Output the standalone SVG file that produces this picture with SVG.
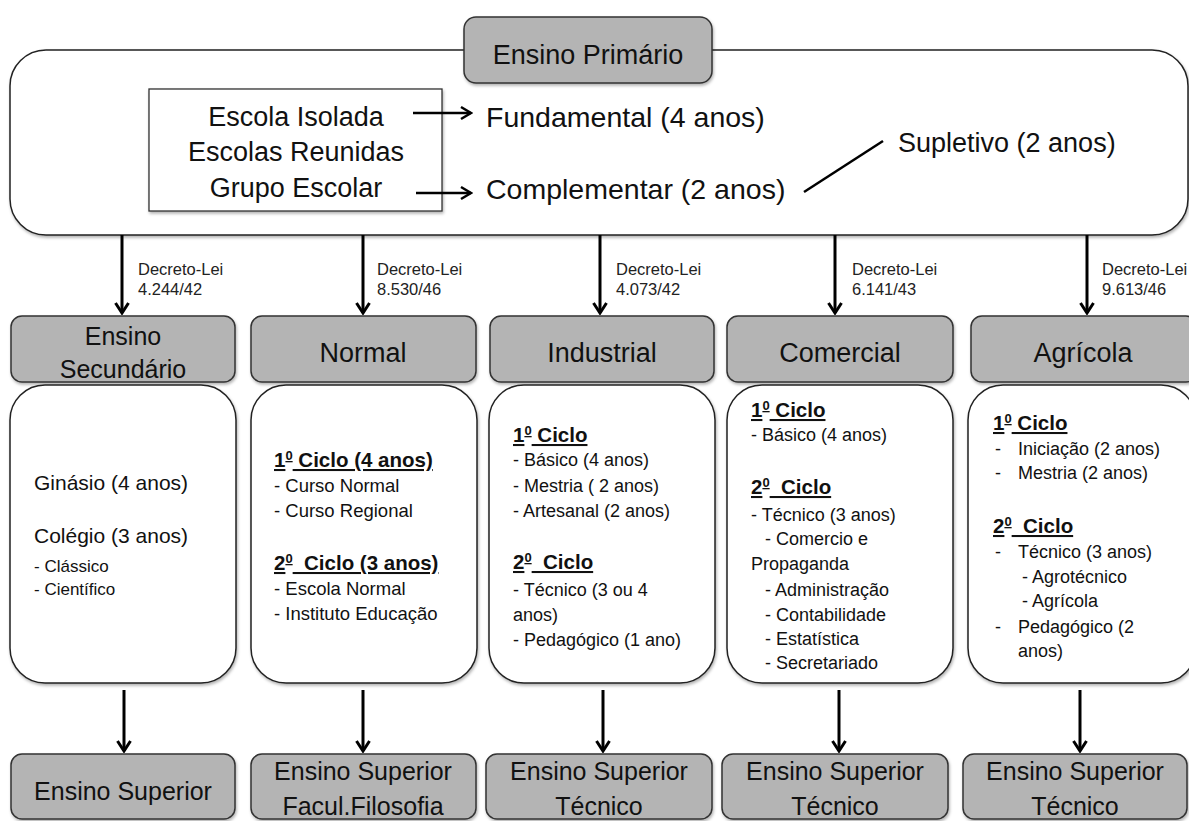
<svg xmlns="http://www.w3.org/2000/svg" width="1189" height="821" viewBox="0 0 1189 821">
<style>
text{font-family:"Liberation Sans",Arial,sans-serif;fill:#111}
.gray{fill:#b4b4b4;stroke:#333;stroke-width:1.5}
.white{fill:#fff;stroke:#222;stroke-width:1.5}
.big{font-size:27px}
.big2{font-size:28.5px}
.hd{font-size:27px;text-anchor:middle}
.hd2{font-size:25px;text-anchor:middle}
.bt{font-size:25px;text-anchor:middle}
.dl{font-size:16.5px;fill:#222}
.c1{font-size:21px}
.c1s{font-size:17px}
.it{font-size:18px}
.itn{font-size:18.5px}
.h{font-size:20.5px;font-weight:bold;text-decoration:underline}
.arr{stroke:#000;stroke-width:3;fill:none;marker-end:url(#ah)}
.arr2{stroke:#000;stroke-width:2.5;fill:none;marker-end:url(#ah2)}
</style>
<defs>
<filter id="sh" x="-5%" y="-5%" width="115%" height="120%">
<feDropShadow dx="1" dy="2" stdDeviation="1.5" flood-color="#000" flood-opacity="0.3"/>
</filter>
<marker id="ah" viewBox="-13 -9 15 18" refX="0" refY="0" markerWidth="15" markerHeight="18" markerUnits="userSpaceOnUse" orient="auto">
<path d="M-10,-6.5 L0,0 L-10,6.5" fill="none" stroke="#000" stroke-width="3"/>
</marker>
<marker id="ah2" viewBox="-13 -9 15 18" refX="0" refY="0" markerWidth="15" markerHeight="18" markerUnits="userSpaceOnUse" orient="auto">
<path d="M-10,-6 L0,0 L-10,6" fill="none" stroke="#000" stroke-width="2.5"/>
</marker>
</defs>
<rect width="1189" height="821" fill="#fff"/>

<g id="primario">
<rect class="white" x="10" y="50" width="1178" height="185" rx="36" filter="url(#sh)"/>
<rect x="149" y="89" width="293" height="122" fill="#fff" stroke="#333" stroke-width="1.3" filter="url(#sh)"/>
<text class="big" x="296" y="126" text-anchor="middle">Escola Isolada</text>
<text class="big" x="296" y="161" text-anchor="middle">Escolas Reunidas</text>
<text class="big" x="296" y="197" text-anchor="middle">Grupo Escolar</text>
<text class="big2" x="486" y="127">Fundamental (4 anos)</text>
<text class="big2" x="486" y="199">Complementar (2 anos)</text>
<text class="big" x="898" y="152" font-size="28">Supletivo (2 anos)</text>
<rect class="gray" x="464" y="17" width="248" height="66" rx="12" filter="url(#sh)"/>
<text class="hd" x="588" y="64">Ensino Primário</text>
</g>

<g id="decretos">
<text class="dl" x="138" y="275">Decreto-Lei</text><text class="dl" x="138" y="295">4.244/42</text>
<text class="dl" x="377" y="275">Decreto-Lei</text><text class="dl" x="377" y="295">8.530/46</text>
<text class="dl" x="616" y="275">Decreto-Lei</text><text class="dl" x="616" y="295">4.073/42</text>
<text class="dl" x="852" y="275">Decreto-Lei</text><text class="dl" x="852" y="295">6.141/43</text>
<text class="dl" x="1102" y="275">Decreto-Lei</text><text class="dl" x="1102" y="295">9.613/46</text>
</g>

<g id="secundario">
<rect class="gray" x="11" y="316" width="224" height="66" rx="11" filter="url(#sh)"/>
<text class="hd2" x="123" y="345">Ensino</text>
<text class="hd2" x="123" y="378">Secundário</text>
<rect class="white" x="10" y="385" width="226" height="298" rx="35" filter="url(#sh)"/>
<text class="c1" x="34" y="490">Ginásio (4 anos)</text>
<text class="c1" x="34" y="543">Colégio (3 anos)</text>
<text class="c1s" x="34" y="572">- Clássico</text>
<text class="c1s" x="34" y="595">- Científico</text>
</g>

<g id="normal">
<rect class="gray" x="251" y="316" width="225" height="66" rx="11" filter="url(#sh)"/>
<text class="hd" x="363" y="362">Normal</text>
<rect class="white" x="251" y="385" width="226" height="298" rx="35" filter="url(#sh)"/>
<text class="h" x="274" y="467">1<tspan font-size="13" baseline-shift="super">0</tspan> Ciclo (4 anos)</text>
<text class="itn" x="274" y="492">- Curso Normal</text>
<text class="itn" x="274" y="517">- Curso Regional</text>
<text class="h" x="274" y="570" xml:space="preserve">2<tspan font-size="13" baseline-shift="super">0</tspan>  Ciclo (3 anos)</text>
<text class="itn" x="274" y="595">- Escola Normal</text>
<text class="itn" x="274" y="620">- Instituto Educação</text>
</g>

<g id="industrial">
<rect class="gray" x="490" y="316" width="224" height="66" rx="11" filter="url(#sh)"/>
<text class="hd" x="602" y="362">Industrial</text>
<rect class="white" x="489" y="385" width="226" height="298" rx="35" filter="url(#sh)"/>
<text class="h" x="513" y="442">1<tspan font-size="13" baseline-shift="super">0</tspan> Ciclo</text>
<text class="it" x="513" y="466">- Básico (4 anos)</text>
<text class="it" x="513" y="492">- Mestria ( 2 anos)</text>
<text class="it" x="513" y="517">- Artesanal (2 anos)</text>
<text class="h" x="513" y="569" xml:space="preserve">2<tspan font-size="13" baseline-shift="super">0</tspan>  Ciclo</text>
<text class="it" x="513" y="596">- Técnico (3 ou 4</text>
<text class="it" x="513" y="621">anos)</text>
<text class="it" x="513" y="646">- Pedagógico (1 ano)</text>
</g>

<g id="comercial">
<rect class="gray" x="727" y="316" width="226" height="66" rx="11" filter="url(#sh)"/>
<text class="hd" x="840" y="362">Comercial</text>
<rect class="white" x="727" y="385" width="226" height="298" rx="35" filter="url(#sh)"/>
<text class="h" x="751" y="417">1<tspan font-size="13" baseline-shift="super">0</tspan> Ciclo</text>
<text class="it" x="751" y="441">- Básico (4 anos)</text>
<text class="h" x="751" y="494" xml:space="preserve">2<tspan font-size="13" baseline-shift="super">0</tspan>  Ciclo</text>
<text class="it" x="751" y="521">- Técnico (3 anos)</text>
<text class="it" x="765" y="545">- Comercio e</text>
<text class="it" x="751" y="570">Propaganda</text>
<text class="it" x="765" y="596">- Administração</text>
<text class="it" x="765" y="621">- Contabilidade</text>
<text class="it" x="765" y="645">- Estatística</text>
<text class="it" x="765" y="669">- Secretariado</text>
</g>

<g id="agricola">
<rect class="gray" x="971" y="316" width="226" height="66" rx="11" filter="url(#sh)"/>
<text class="hd" x="1083" y="362">Agrícola</text>
<rect class="white" x="968" y="385" width="228" height="298" rx="35" filter="url(#sh)"/>
<text class="h" x="993" y="430">1<tspan font-size="13" baseline-shift="super">0</tspan> Ciclo</text>
<text class="it" y="455"><tspan x="995">-</tspan><tspan x="1018">Iniciação (2 anos)</tspan></text>
<text class="it" y="479"><tspan x="995">-</tspan><tspan x="1018">Mestria (2 anos)</tspan></text>
<text class="h" x="993" y="533" xml:space="preserve">2<tspan font-size="13" baseline-shift="super">0</tspan>  Ciclo</text>
<text class="it" y="558"><tspan x="995">-</tspan><tspan x="1018">Técnico (3 anos)</tspan></text>
<text class="it" x="1022" y="583">- Agrotécnico</text>
<text class="it" x="1022" y="607">- Agrícola</text>
<text class="it" y="633"><tspan x="995">-</tspan><tspan x="1018">Pedagógico (2</tspan></text>
<text class="it" x="1018" y="657">anos)</text>
</g>

<g id="sup1">
<rect class="gray" x="11" y="754" width="224" height="65" rx="11" filter="url(#sh)"/>
<text class="bt" x="123" y="800">Ensino Superior</text>
</g>
<g id="sup2">
<rect class="gray" x="251" y="754" width="225" height="65" rx="11" filter="url(#sh)"/>
<text class="bt" x="363" y="780">Ensino Superior</text>
<text class="bt" x="363" y="815">Facul.Filosofia</text>
</g>
<g id="sup3">
<rect class="gray" x="486" y="754" width="226" height="65" rx="11" filter="url(#sh)"/>
<text class="bt" x="599" y="780">Ensino Superior</text>
<text class="bt" x="599" y="815">Técnico</text>
</g>
<g id="sup4">
<rect class="gray" x="722" y="754" width="226" height="65" rx="11" filter="url(#sh)"/>
<text class="bt" x="835" y="780">Ensino Superior</text>
<text class="bt" x="835" y="815">Técnico</text>
</g>
<g id="sup5">
<rect class="gray" x="963" y="754" width="224" height="65" rx="11" filter="url(#sh)"/>
<text class="bt" x="1075" y="780">Ensino Superior</text>
<text class="bt" x="1075" y="815">Técnico</text>
</g>

<g id="connectors">
<line class="arr2" x1="413" y1="113" x2="471" y2="113"/>
<line class="arr2" x1="416" y1="193" x2="471" y2="193"/>
<line x1="804" y1="192" x2="883" y2="141" stroke="#000" stroke-width="2.5"/>
<line class="arr" x1="122" y1="235" x2="122" y2="313"/>
<line class="arr" x1="363" y1="235" x2="363" y2="313"/>
<line class="arr" x1="600" y1="235" x2="600" y2="313"/>
<line class="arr" x1="835" y1="235" x2="835" y2="313"/>
<line class="arr" x1="1087" y1="235" x2="1087" y2="313"/>
<line class="arr" x1="124" y1="690" x2="124" y2="751"/>
<line class="arr" x1="363" y1="690" x2="363" y2="751"/>
<line class="arr" x1="603" y1="690" x2="603" y2="751"/>
<line class="arr" x1="839" y1="690" x2="839" y2="751"/>
<line class="arr" x1="1080" y1="690" x2="1080" y2="751"/>
</g>
</svg>
